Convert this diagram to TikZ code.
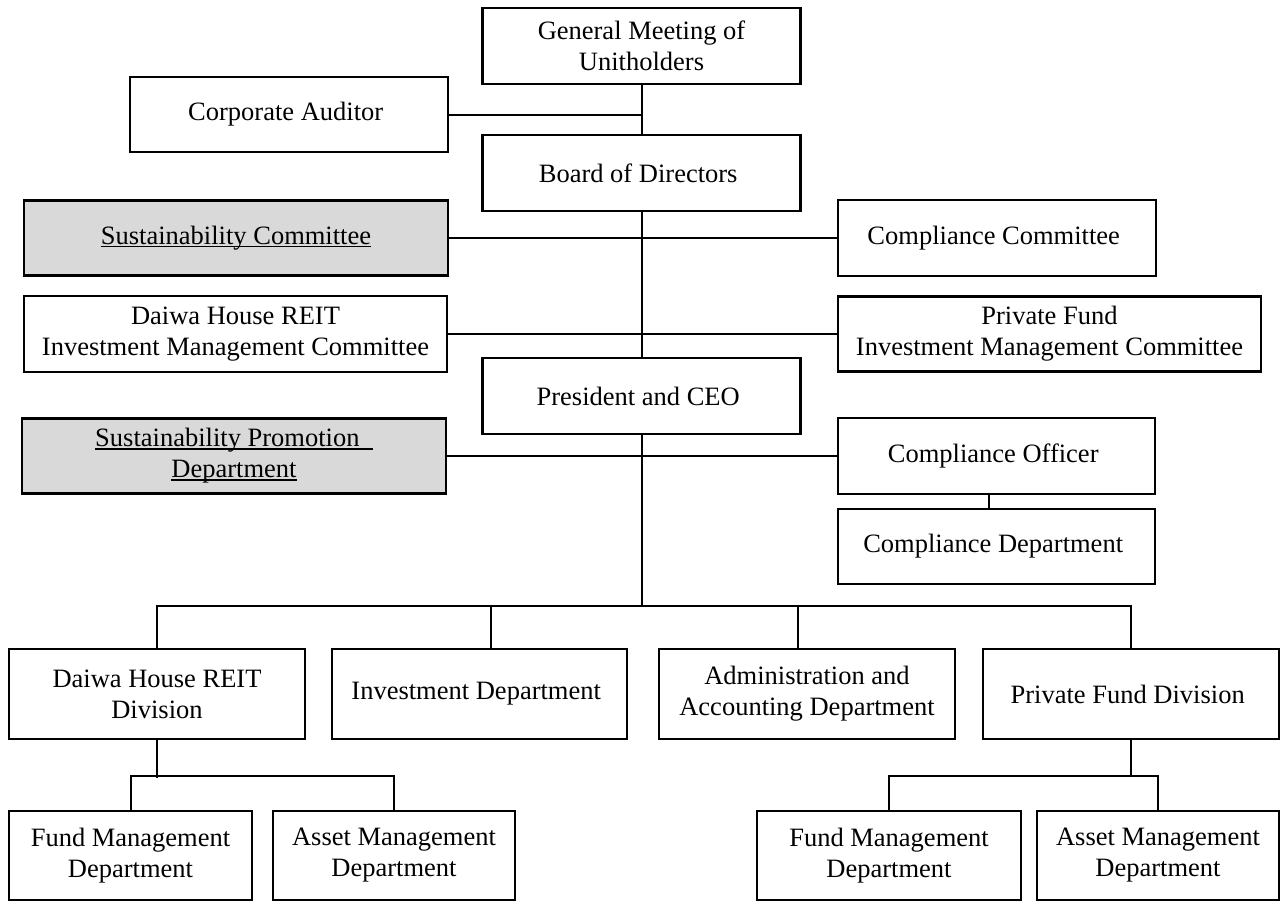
\documentclass[tikz,border=0pt]{standalone}
\usepackage{xcolor}
\usepackage{fontspec}
\setmainfont{Liberation Serif}
\usepackage{tikz}
\usetikzlibrary{positioning}
\definecolor{boxgray}{HTML}{D9D9D9}
\newcommand{\ulbox}[1]{\setbox0\hbox{#1}\rlap{\rule[-3pt]{\wd0}{1.4pt}}\box0}
\tikzset{
    unit/.style={
      rectangle,
      draw=black, line width=2.2pt,
      fill=white,
      inner sep=0pt,
      align=center,
      font=\fontsize{26.5}{31}\selectfont,
    },
    shaded/.style={
      unit,
      fill=boxgray,
    },
}

\begin{document}
\begin{tikzpicture}[x=1pt, y=-1pt, line width=2pt]

    \useasboundingbox (0,0) rectangle (1282,902);

    % top of the spine
    \node[unit, minimum width=318pt, minimum height=76pt] (GM) at (641.5,46)
    {
      General Meeting of \\
      Unitholders
    };

    \node[unit, minimum width=318pt, minimum height=76pt,
    below of=GM,
    node distance=127pt] (BOD)
    {
      Board of Directors
    };

    \node[unit, minimum width=318pt, minimum height=76pt,
    below of=BOD,
    node distance=223pt] (CEO)
    {
      President and CEO
    };

    \node[unit, minimum width=318pt, minimum height=75pt] (CA) at (289,114.5)
    {
      Corporate Auditor
    };

    % committees
    \node[shaded, minimum width=424pt, minimum height=75pt] (SC) at (236,238)
    {
      \ulbox{Sustainability Committee}
    };

    \node[unit, minimum width=318pt, minimum height=76pt] (CC) at (997,238)
    {
      Compliance Committee
    };

    \node[unit, minimum width=423pt, minimum height=76pt] (DHRC) at (235.5,334)
    {
      Daiwa House REIT \\
      Investment Management Committee
    };

    \node[unit, minimum width=423pt, minimum height=75pt] (PFC) at (1049.5,334)
    {
      Private Fund \\
      Investment Management Committee
    };

    \node[shaded, minimum width=424pt, minimum height=75pt] (SPD) at (234,456)
    {
      \ulbox{Sustainability Promotion\hspace{0.5em}} \\
      \ulbox{Department}
    };

    \node[unit, minimum width=317pt, minimum height=76pt] (CO) at (996.5,456)
    {
      Compliance Officer
    };

    \node[unit, minimum width=317pt, minimum height=75pt,
    below of=CO,
    node distance=90.5pt] (CD)
    {
      Compliance Department
    };

    % divisions and departments
    \node[unit, minimum width=296pt, minimum height=90pt] (DHRD) at (157,694)
    {
      Daiwa House REIT \\
      Division
    };

    \node[unit, minimum width=295pt, minimum height=90pt] (INV) at (479.5,694)
    {
      Investment Department
    };

    \node[unit, minimum width=296pt, minimum height=90pt] (ADM) at (807,694)
    {
      Administration and \\
      Accounting Department
    };

    \node[unit, minimum width=296pt, minimum height=90pt] (PFD) at (1131,694)
    {
      Private Fund Division
    };

    \node[unit, minimum width=243pt, minimum height=89pt] (FML) at (130.5,855.5)
    {
      Fund Management \\
      Department
    };

    \node[unit, minimum width=242pt, minimum height=89pt] (AML) at (394,855.5)
    {
      Asset Management \\
      Department
    };

    \node[unit, minimum width=264pt, minimum height=89pt] (FMR) at (889,855.5)
    {
      Fund Management \\
      Department
    };

    \node[unit, minimum width=242pt, minimum height=89pt] (AMR) at (1158,855.5)
    {
      Asset Management \\
      Department
    };

    \coordinate (BUS) at (641.5,607);

    \path
    (GM)  edge (BOD)
    (BOD) edge (CEO)
    (CEO) edge (BUS)
    (CA)  edge (CA -| GM)
    (SC)  edge (CC)
    (DHRC) edge (PFC)
    (SPD) edge (CO)
    ([xshift=-8pt]CO.south) edge ([xshift=-8pt]CD.north);

    % bus lines to the lower boxes
    \draw (DHRD.north) -- ++(0,-42) -| (PFD.north);
    \draw ([xshift=11.5pt]INV.north) -- ++(0,-42);
    \draw ([xshift=-9pt]ADM.north) -- ++(0,-42);

    \draw (DHRD.south) -- ++(0,38);
    \draw (FML.north) -- ++(0,-34) -| (AML.north);

    \draw (PFD.south) -- ++(0,37);
    \draw (FMR.north) -- ++(0,-34) -| (AMR.north);

\end{tikzpicture}
\end{document}
